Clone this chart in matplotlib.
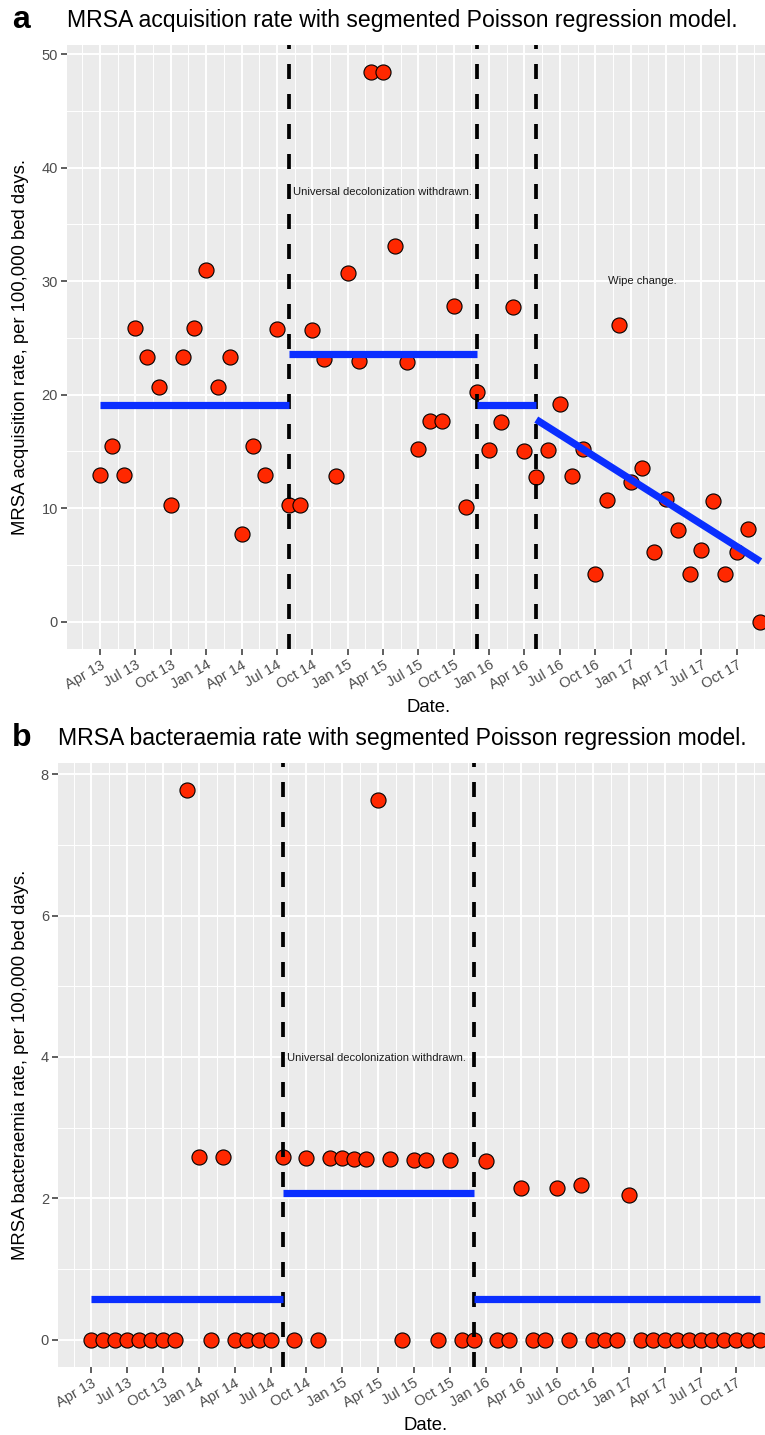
"""MRSA acquisition / bacteraemia rates with segmented Poisson regression fits."""

import matplotlib

matplotlib.use("Agg")
import matplotlib.pyplot as plt
import numpy as np

plt.rcParams["font.family"] = ["Liberation Sans", "DejaVu Sans"]

# month index 0 = Apr 2013 ... 56 = Dec 2017
MONTHS = np.arange(57)

ACQ_RATE = [
    12.9, 15.5, 12.9, 25.9, 23.3, 20.7, 10.3, 23.3, 25.9, 31.0,
    20.7, 23.3, 7.7, 15.5, 12.9, 25.8, 10.3, 10.3, 25.7, 23.1,
    12.8, 30.7, 23.0, 48.4, 48.4, 33.1, 22.9, 15.2, 17.7, 17.7,
    27.8, 10.1, 20.2, 15.1, 17.6, 27.7, 15.0, 12.7, 15.1, 19.2,
    12.8, 15.2, 4.2, 10.7, 26.1, 12.3, 13.5, 6.1, 10.8, 8.1,
    4.2, 6.3, 10.6, 4.2, 6.1, 8.2, 0.0,
]

BAC_RATE = [
    0, 0, 0, 0, 0, 0, 0, 0, 7.77, 2.59,
    0, 2.59, 0, 0, 0, 0, 2.58, 0, 2.57, 0,
    2.57, 2.57, 2.55, 2.55, 7.64, 2.55, 0, 2.54, 2.54, 0,
    2.54, 0, 0, 2.52, 0, 0, 2.15, 0, 0, 2.14,
    0, 2.18, 0, 0, 0, 2.05, 0, 0, 0, 0,
    0, 0, 0, 0, 0, 0, 0,
]

# fitted segments: (x start, x end, y start, y end)
ACQ_FIT = [
    (0, 16, 19.1, 19.1),
    (16, 32, 23.55, 23.55),
    (32, 37, 19.1, 19.1),
    (37, 56, 17.8, 5.3),
]
BAC_FIT = [
    (0, 16, 0.57, 0.57),
    (16, 32, 2.08, 2.08),
    (32, 56, 0.57, 0.57),
]

ACQ_BREAKS = [16, 32, 37]
BAC_BREAKS = [16, 32]

MONTH_NAMES = ["Jan", "Feb", "Mar", "Apr", "May", "Jun",
               "Jul", "Aug", "Sep", "Oct", "Nov", "Dec"]
TICK_POS = np.arange(0, 55, 3)
# month index 0 is April (calendar month 3, zero based)
TICK_LABELS = [
    f"{MONTH_NAMES[(3 + m) % 12]} {13 + (3 + m) // 12}" for m in TICK_POS
]

W, H = 765, 1435
POINT_FILL = "#FF2800"
FIT_BLUE = "#0A2EFF"
PANEL_BG = "#EBEBEB"
LABEL_SIZE = 13.3
TITLE_SIZE = 16.6
NOTE_SIZE = 8.1


def px_box(left, top, right, bottom):
    return [left / W, 1 - bottom / H, (right - left) / W, (bottom - top) / H]


def style_axes(ax, ymax, ystep):
    ax.set_facecolor(PANEL_BG)
    for s in ax.spines.values():
        s.set_visible(False)
    ax.set_xlim(-2.8, 56.4)
    ax.set_xticks(TICK_POS)
    ax.set_xticklabels(TICK_LABELS, rotation=30, ha="right", va="top",
                       rotation_mode="anchor")
    ax.set_xticks(np.arange(-1.5, 57, 3), minor=True)
    ax.set_yticks(np.arange(0, ymax + 0.01, ystep))
    ax.set_yticks(np.arange(ystep / 2, ymax, ystep), minor=True)
    ax.tick_params(which="major", length=4, width=1.1, color="#333333",
                   labelsize=10.5, labelcolor="#4D4D4D", pad=2.5)
    ax.tick_params(which="minor", length=0)
    ax.grid(which="major", color="white", lw=1.4)
    ax.grid(which="minor", color="white", lw=0.7)
    ax.set_axisbelow(True)


def draw_panel(ax, rates, fits, breaks):
    ax.scatter(MONTHS, rates, s=118, facecolor=POINT_FILL, edgecolor="black",
               linewidth=0.8, zorder=3, clip_on=False)
    for b in breaks:
        ax.axvline(b, color="black", lw=2.7, linestyle=(0, (4, 4)), zorder=4)
    for x0, x1, y0, y1 in fits:
        ax.plot([x0, x1], [y0, y1], color=FIT_BLUE, lw=5.2,
                solid_capstyle="butt", zorder=5)


fig = plt.figure(figsize=(W / 100, H / 100), dpi=100)

# panel a
ax_a = fig.add_axes(px_box(67, 45, 765, 649))
style_axes(ax_a, 50, 10)
ax_a.set_ylim(-2.42, 50.82)
draw_panel(ax_a, ACQ_RATE, ACQ_FIT, ACQ_BREAKS)
ax_a.text(16.35, 37.9, "Universal decolonization withdrawn.",
          fontsize=NOTE_SIZE, color="#1A1A1A", ha="left", va="center",
          zorder=6)
ax_a.text(46.0, 30.0, "Wipe change.", fontsize=NOTE_SIZE, color="#1A1A1A",
          ha="center", va="center", zorder=6)

# panel b
ax_b = fig.add_axes(px_box(58, 763, 765, 1367))
style_axes(ax_b, 8, 2)
ax_b.set_ylim(-0.3885, 8.1585)
draw_panel(ax_b, BAC_RATE, BAC_FIT, BAC_BREAKS)
ax_b.text(16.4, 3.99, "Universal decolonization withdrawn.",
          fontsize=NOTE_SIZE, color="#1A1A1A", ha="left", va="center",
          zorder=6)

# titles, panel letters and axis labels
fig.text(12 / W, 1 - 20 / H, "a", fontsize=23, fontweight="bold",
         ha="left", va="center")
fig.text(67 / W, 1 - 20 / H,
         "MRSA acquisition rate with segmented Poisson regression model.",
         fontsize=TITLE_SIZE, ha="left", va="center")
fig.text(12 / W, 1 - 738 / H, "b", fontsize=23, fontweight="bold",
         ha="left", va="center")
fig.text(58 / W, 1 - 739 / H,
         "MRSA bacteraemia rate with segmented Poisson regression model.",
         fontsize=TITLE_SIZE, ha="left", va="center")

fig.text(20.5 / W, 1 - 347 / H, "MRSA acquisition rate, per 100,000 bed days.",
         fontsize=LABEL_SIZE, rotation=90, ha="center", va="center")
fig.text(20.5 / W, 1 - 1065 / H,
         "MRSA bacteraemia rate, per 100,000 bed days.",
         fontsize=LABEL_SIZE, rotation=90, ha="center", va="center")
fig.text(429 / W, 1 - 707 / H, "Date.", fontsize=LABEL_SIZE, ha="center",
         va="center")
fig.text(426 / W, 1 - 1426 / H, "Date.", fontsize=LABEL_SIZE, ha="center",
         va="center")

fig.savefig("out.png", dpi=100, facecolor="white")
